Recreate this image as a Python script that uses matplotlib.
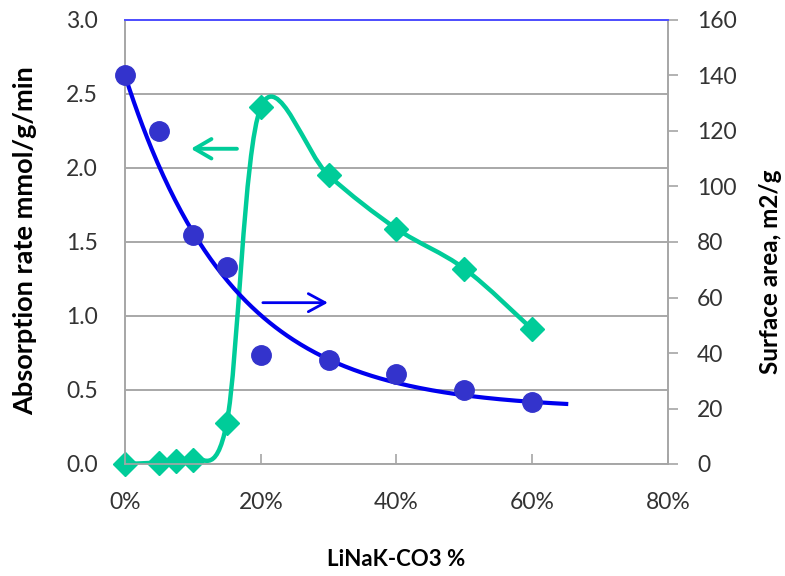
import numpy as np
import matplotlib
matplotlib.use("Agg")
from matplotlib import pyplot as plt
from matplotlib.path import Path
from matplotlib.patches import PathPatch

plt.rcParams['font.family'] = ['Lato', 'DejaVu Sans']

# LiNaK-CO3 content (%)
pct_rate = [0, 5, 7.5, 10, 15, 20, 30, 40, 50, 60]
# absorption rate, mmol/g/min
rate = [0.0, 0.01, 0.02, 0.03, 0.28, 2.41, 1.95, 1.59, 1.32, 0.91]

pct_area = [0, 5, 10, 15, 20, 30, 40, 50, 60]
# surface area, m2/g
area = [140, 120, 82.5, 71, 39.3, 37.5, 32.4, 26.7, 22.3]

green = '#00cc99'
dot_blue = '#3333cc'
line_blue = '#0000ee'
text_col = '#333333'


def smooth_path(xs, ys):
    # cubic bezier through every point, control points from neighbours
    pts = np.column_stack([xs, ys]).astype(float)
    n = len(pts)
    verts = [pts[0]]
    codes = [Path.MOVETO]
    for i in range(n - 1):
        p0 = pts[max(i - 1, 0)]
        p1 = pts[i]
        p2 = pts[i + 1]
        p3 = pts[min(i + 2, n - 1)]
        c1 = p1 + (p2 - p0) / 6
        c2 = p2 - (p3 - p1) / 6
        verts += [c1, c2, p2]
        codes += [Path.CURVE4] * 3
    return Path(verts, codes)


# exponential trend y0 - c*(1 - exp(-k*x)), anchored at the first point
xa = np.array(pct_area, float)
ya = np.array(area, float)
y0 = ya[0]
best = None
for k in np.linspace(0.01, 0.3, 600):
    g = 1 - np.exp(-k * xa)
    c = np.sum(g * (y0 - ya)) / np.sum(g * g)
    err = np.sum((y0 - c * g - ya) ** 2)
    if best is None or err < best[0]:
        best = (err, k, c)
_, k_fit, c_fit = best
x_trend = np.linspace(0, 65, 300)
y_trend = y0 - c_fit * (1 - np.exp(-k_fit * x_trend))

fig = plt.figure(figsize=(7.85, 5.76), dpi=100)
ax = fig.add_axes([125 / 785, 1 - 464 / 576, 543 / 785, 444 / 576])
ax2 = ax.twinx()

# absorption rate on the left axis
ax.add_patch(PathPatch(smooth_path(pct_rate, rate), facecolor='none',
                       edgecolor=green, lw=3.2, zorder=3))
ax.plot(pct_rate, rate, ls='none', marker='D', ms=12, color=green,
        mec=green, zorder=4, clip_on=False)

# surface area on the right axis
ax2.plot(x_trend, y_trend, color=line_blue, lw=3.0, zorder=3)
ax2.plot(pct_area, area, ls='none', marker='o', ms=14, color=dot_blue,
         mec=dot_blue, zorder=4, clip_on=False)

ax.set_xlim(0, 80)
ax.set_ylim(0, 3.0)
ax2.set_ylim(0, 160)
ax.set_xticks([0, 20, 40, 60, 80])
ax.set_xticklabels(['0%', '20%', '40%', '60%', '80%'])
ax.set_yticks(np.arange(0, 3.01, 0.5))
ax.set_yticklabels([f'{v:.1f}' for v in np.arange(0, 3.01, 0.5)])
ax2.set_yticks(range(0, 161, 20))

ax.grid(axis='y', color='#9a9a9a', lw=1.2)
ax.set_axisbelow(True)
for a in (ax, ax2):
    for s in ('left', 'right', 'bottom'):
        a.spines[s].set_color('#a6a6a6')
        a.spines[s].set_linewidth(1.2)
    a.spines['top'].set_color('#5050ff')
    a.spines['top'].set_linewidth(1.4)

ax.tick_params(axis='y', length=0, pad=19.5, labelsize=16.5, colors=text_col)
ax.tick_params(axis='x', direction='in', length=7, width=1.2, color='#a6a6a6',
               pad=20.5, labelsize=16.5, labelcolor=text_col)
ax2.tick_params(axis='y', direction='out', length=7, width=1.2, color='#a6a6a6',
                pad=14, labelsize=16.5, labelcolor=text_col)

ax.set_xlabel('LiNaK-CO3 %', fontsize=16, fontweight='bold')
ax.xaxis.set_label_coords(0.5, -0.191)
ax.set_ylabel('Absorption rate mmol/g/min', fontsize=19.5, fontweight='bold')
ax.yaxis.set_label_coords(-0.162, 0.503)
ax2.set_ylabel('Surface area, m2/g', fontsize=17.5, fontweight='bold',
               rotation=90)
ax2.yaxis.set_label_coords(1.168, 0.432)

# arrows pointing at each series' axis
ax.annotate('', xy=(9.3, 2.13), xytext=(16.9, 2.13),
            arrowprops=dict(arrowstyle='->,head_length=1.2,head_width=0.7',
                            color=green, lw=2.8))
ax.annotate('', xy=(30.3, 1.09), xytext=(19.9, 1.09),
            arrowprops=dict(arrowstyle='->,head_length=1.2,head_width=0.65',
                            color=line_blue, lw=2.0))

fig.savefig('out.png', dpi=100)
